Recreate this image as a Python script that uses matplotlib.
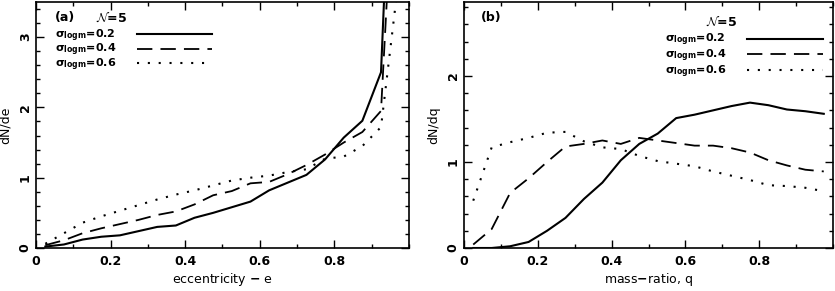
import matplotlib
matplotlib.use('Agg')
import matplotlib.pyplot as plt
from matplotlib.ticker import MultipleLocator

plt.rcParams['font.family'] = 'DejaVu Sans'
plt.rcParams['font.weight'] = 'bold'
plt.rcParams['mathtext.default'] = 'bf'

# bin centres
bins = [0.025, 0.075, 0.125, 0.175, 0.225, 0.275, 0.325, 0.375, 0.425, 0.475,
        0.525, 0.575, 0.625, 0.675, 0.725, 0.775, 0.825, 0.875, 0.925, 0.975]

# (a) eccentricity distributions
e_s02 = [0.02, 0.05, 0.12, 0.16, 0.18, 0.24, 0.30, 0.32, 0.43, 0.50,
         0.58, 0.66, 0.82, 0.93, 1.04, 1.26, 1.57, 1.81, 2.50, 8.8]
e_s04 = [0.04, 0.11, 0.21, 0.28, 0.34, 0.40, 0.47, 0.52, 0.62, 0.75,
         0.81, 0.92, 0.94, 1.05, 1.18, 1.33, 1.50, 1.65, 1.95, 7.0]
e_s06 = [0.06, 0.21, 0.36, 0.45, 0.53, 0.61, 0.69, 0.76, 0.82, 0.89,
         0.96, 1.00, 1.03, 1.08, 1.12, 1.27, 1.30, 1.45, 1.72, 3.95]

# (b) mass-ratio distributions
q_s02 = [0.0, 0.0, 0.02, 0.07, 0.20, 0.35, 0.57, 0.76, 1.02, 1.21,
         1.33, 1.51, 1.55, 1.60, 1.65, 1.69, 1.66, 1.61, 1.59, 1.56]
q_s04 = [0.04, 0.22, 0.64, 0.81, 1.00, 1.18, 1.21, 1.25, 1.21, 1.28,
         1.25, 1.22, 1.19, 1.19, 1.16, 1.11, 1.02, 0.96, 0.91, 0.89]
q_s06 = [0.55, 1.17, 1.23, 1.28, 1.34, 1.35, 1.24, 1.17, 1.15, 1.07,
         1.01, 0.98, 0.95, 0.89, 0.84, 0.79, 0.73, 0.72, 0.70, 0.66]

sigmas = ['0.2', '0.4', '0.6']
styles = [dict(ls='-', lw=1.5),
          dict(ls=(0, (8.5, 4.5)), lw=1.3),
          dict(ls=(0, (1.0, 4.2)), lw=1.5)]

fig = plt.figure(figsize=(8.35, 2.91), dpi=100)
ax1 = fig.add_axes([0.0431, 0.1478, 0.4467, 0.8454])
ax2 = fig.add_axes([0.5557, 0.1478, 0.4419, 0.8454])

for ax, series in [(ax1, [e_s02, e_s04, e_s06]), (ax2, [q_s02, q_s04, q_s06])]:
    for y, st in zip(series, styles):
        ax.plot(bins, y, color='black', **st)
    ax.set_xlim(0, 1)
    ax.xaxis.set_major_locator(MultipleLocator(0.2))
    ax.xaxis.set_minor_locator(MultipleLocator(0.1))
    ax.yaxis.set_major_locator(MultipleLocator(1))
    ax.yaxis.set_minor_locator(MultipleLocator(0.2))
    ax.tick_params(which='both', direction='in', top=True, right=True,
                   labelsize=9, width=1.0)
    ax.tick_params(which='major', length=5.5)
    ax.tick_params(which='minor', length=3)
    ax.tick_params(axis='x', pad=5)
    ax.tick_params(axis='y', labelrotation=90, pad=3)
    for lab in ax.get_yticklabels():
        lab.set_va('center')
    for sp in ax.spines.values():
        sp.set_linewidth(1.2)

ax1.set_ylim(0, 3.5)
ax2.set_ylim(0, 2.86)
ax1.set_xticks([0, 0.2, 0.4, 0.6, 0.8])
ax2.set_xticks([0, 0.2, 0.4, 0.6, 0.8])
ax1.set_xticklabels(['0', '0.2', '0.4', '0.6', '0.8'])
ax2.set_xticklabels(['0', '0.2', '0.4', '0.6', '0.8'])

ax1.set_xlabel('eccentricity $-$ e', fontsize=9, labelpad=2)
ax1.set_ylabel('dN/de', fontsize=9, labelpad=5)
ax2.set_xlabel('mass$-$ratio, q', fontsize=9, labelpad=2)
ax2.set_ylabel('dN/dq', fontsize=9, labelpad=5)

nlabel = r'$\mathcal{N}$=5'

# panel (a) legend
ax1.text(0.05, 0.935, '(a)', transform=ax1.transAxes, fontsize=9, va='center')
ax1.text(0.16, 0.935, nlabel, transform=ax1.transAxes, fontsize=9, va='center',
         math_fontfamily='cm')
for i, (s, st) in enumerate(zip(sigmas, styles)):
    yy = 0.862 - i * 0.058
    ax1.text(0.05, yy, r'$\sigma_{logm}$=' + s, transform=ax1.transAxes,
             fontsize=8, va='center')
    ax1.plot([0.27, 0.473], [yy + 0.006] * 2, transform=ax1.transAxes,
             color='black', **st)

# panel (b) legend
ax2.text(0.045, 0.935, '(b)', transform=ax2.transAxes, fontsize=9, va='center')
ax2.text(0.655, 0.92, nlabel, transform=ax2.transAxes, fontsize=9, va='center',
         math_fontfamily='cm')
for i, (s, st) in enumerate(zip(sigmas, styles)):
    yy = 0.845 - i * 0.064
    ax2.text(0.545, yy, r'$\sigma_{logm}$=' + s, transform=ax2.transAxes,
             fontsize=8, va='center')
    ax2.plot([0.768, 0.972], [yy + 0.006] * 2, transform=ax2.transAxes,
             color='black', **st)

fig.savefig('out.png', dpi=100)
